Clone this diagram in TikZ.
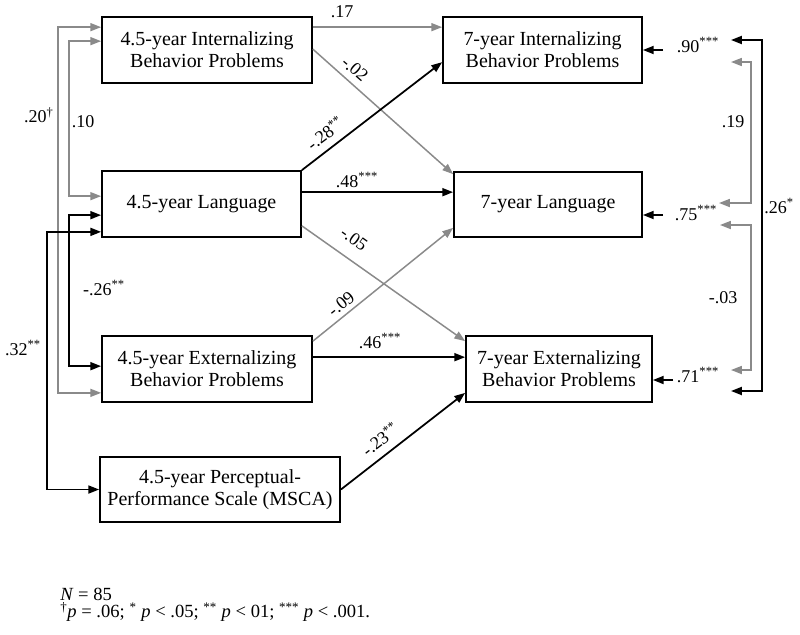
\documentclass[tikz,border=0pt]{standalone}
\usepackage{fontspec}
\setmainfont{Liberation Serif}
\usetikzlibrary{arrows.meta,calc}

\definecolor{pathgray}{RGB}{138,138,138}

\tikzset{
    box/.style={draw, line width=1.2pt, align=center, inner sep=2pt,
        minimum height=1.65cm, font=\fontsize{14.2}{15.6}\selectfont},
    lbl/.style={inner sep=0pt, font=\fontsize{12.8}{14}\selectfont},
    blk/.style={draw=black, line width=1.25pt},
    gry/.style={draw=pathgray, line width=1.05pt},
    >={Triangle[length=0.27cm, width=0.2cm]}
}

\begin{document}
\begin{tikzpicture}[x=0.025cm, y=-0.025cm]
    \useasboundingbox (0,0) rectangle (800,634);

    % 4.5-year measures
    \node[box, minimum width=5.25cm] (int45) at (207,50) {4.5-year Internalizing\\Behavior Problems};
    \node[box, minimum width=4.975cm] (lang45) at (201.5,204) {4.5-year Language};
    \node[box, minimum width=5.25cm] (ext45) at (207,369) {4.5-year Externalizing\\Behavior Problems};
    \node[box, minimum width=6cm, minimum height=1.625cm] (perc45) at (220,489.5) {4.5-year Perceptual-\\Performance Scale (MSCA)};

    % 7-year outcomes
    \node[box, minimum width=4.975cm] (int7) at (542.5,50) {7-year Internalizing\\Behavior Problems};
    \node[box, minimum width=4.7cm, minimum height=1.625cm] (lang7) at (548,204.5) {7-year Language};
    \node[box, minimum width=4.65cm] (ext7) at (559,369) {7-year Externalizing\\Behavior Problems};

    % Paths
    \draw[gry, ->] ($(int45.north east)+(0,11)$) -- ($(int7.north west)+(0,11)$);
    \draw[gry, ->] ($(int45.north east)+(0,33)$) -- ($(lang7.north west)+(0,3)$);
    \draw[blk, ->] (lang45.north east) -- ($(int7.north west)+(0,46)$);
    \draw[blk, ->] ($(lang45.north east)+(0,22)$) -- ($(lang7.north west)+(0,21)$);
    \draw[gry, ->] ($(lang45.south east)+(0,-12)$) -- ($(ext7.north west)+(0,6)$);
    \draw[gry, ->] ($(ext45.north east)+(0,6)$) -- ($(lang7.south west)+(0,-10)$);
    \draw[blk, ->] ($(ext45.north east)+(0,22)$) -- ($(ext7.north west)+(0,22)$);
    \draw[blk, ->] (perc45.east) -- ($(ext7.south west)+(0,-10)$);

    \node[lbl] (p17) at (342,12) {.17};
    \node[lbl, rotate=-41] (p02) at (355,69) {-.02};
    \node[lbl, rotate=37] (p28) at (325,133) {-.28\textsuperscript{**}};
    \node[lbl] (p48) at (357,180) {.48\textsuperscript{***}};
    \node[lbl, rotate=-35.6] (p05) at (354,239) {-.05};
    \node[lbl, rotate=39] (p09) at (341,304) {-.09};
    \node[lbl] (p46) at (380,341) {.46\textsuperscript{***}};
    \node[lbl, rotate=37.6] (p23) at (380,439) {-.23\textsuperscript{**}};

    % Correlations among 4.5-year measures
    \draw[gry, <->] ($(int45.north west)+(0,11)$) -- ++(-43,0) |- ($(ext45.south west)+(0,-10)$);
    \draw[gry, <->] ($(int45.north west)+(0,25)$) -- ++(-32,0) |- ($(lang45.north west)+(0,26)$);
    \draw[blk, <->] ($(lang45.north west)+(0,45)$) -- ++(-32,0) |- ($(ext45.north west)+(0,31)$);
    \draw[blk, <->] ($(lang45.south west)+(0,-6)$) -- ++(-54,0) |- (perc45.west);

    \node[lbl] (c20) at (39,115) {.20\textsuperscript{†}};
    \node[lbl] (c10) at (83,122) {.10};
    \node[lbl] (c26) at (104,288) {-.26\textsuperscript{**}};
    \node[lbl] (c32) at (23,348) {.32\textsuperscript{**}};

    % Residuals
    \coordinate (e90) at (663,50);
    \coordinate (e75) at (663,215);
    \coordinate (e71) at (673,380);
    \draw[blk, ->] (e90) -- (int7.east);
    \draw[blk, ->] (e75) -- (e75 -| lang7.east);
    \draw[blk, ->] (e71) -- (e71 -| ext7.east);

    \node[lbl] (r90) at (698,45) {.90\textsuperscript{***}};
    \node[lbl] (r75) at (696,213) {.75\textsuperscript{***}};
    \node[lbl] (r71) at (698,375) {.71\textsuperscript{***}};

    % Residual correlations
    \coordinate (ri1) at (731,40);
    \coordinate (ri2) at (731,62);
    \coordinate (rl1) at (719,203);
    \coordinate (rl2) at (720,225);
    \coordinate (re1) at (731,370);
    \coordinate (re2) at (731,391);
    \draw[blk, <->] (ri1) -- ++(31,0) |- (re2);
    \draw[gry, <->] (ri2) -- ++(20,0) |- (rl1);
    \draw[gry, <->] (rl2) -- ++(31,0) |- (re1);

    \node[lbl] (c19) at (733,122) {.19};
    \node[lbl] (c03) at (723,298) {-.03};
    \node[lbl] (c26r) at (779,206) {.26\textsuperscript{*}};

    % Note
    \node[anchor=north west, align=left, inner sep=0pt, font=\fontsize{13.2}{12.2}\selectfont] (note) at (60,588)
        {\textit{N} = 85\\\textsuperscript{†}\textit{p} = .06; \textsuperscript{*} \textit{p} < .05; \textsuperscript{**} \textit{p} < 01; \textsuperscript{***} \textit{p} < .001.};
\end{tikzpicture}
\end{document}
